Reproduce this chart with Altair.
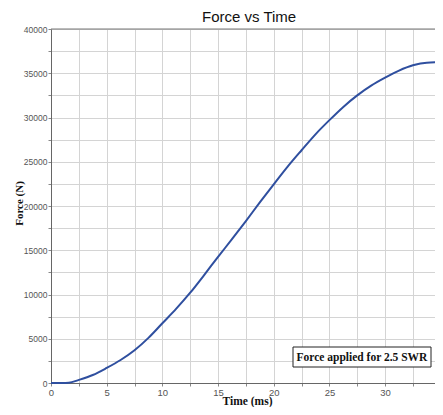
import altair as alt
import pandas as pd

time_ms = [0, 1, 1.6, 2.5, 3.75, 5, 6.25, 7.5, 8.75, 10, 11.25, 12.5, 13.75, 15,
           16.25, 17.5, 18.75, 20, 21.25, 22.5, 23.75, 25, 26.25, 27.5, 28.75,
           30, 31.25, 32.5, 33.75, 35]
force_n = [0, 0, 30, 350, 900, 1700, 2600, 3700, 5100, 6750, 8400, 10200, 12200, 14250,
           16250, 18300, 20400, 22450, 24450, 26300, 28100, 29700, 31200, 32500, 33600,
           34500, 35300, 35900, 36200, 36250]
x_ticks = [i * 2.5 for i in range(15)]
y_ticks = [i * 2500 for i in range(17)]
annotation = ["Force applied for 2.5 SWR"]

df = pd.DataFrame({"t": time_ms, "f": force_n})

x_axis = alt.Axis(values=x_ticks, labelExpr="datum.value % 5 == 0 ? datum.label : ''",
                  title="Time (ms)", titleFont="Liberation Serif", titleFontSize=11.5,
                  titleFontWeight="bold", titleColor="#111", titleBaseline="alphabetic",
                  titleY=21, titleX=196, labelFont="Liberation Sans", labelFontSize=9.5,
                  labelColor="#555", labelPadding=1, tickSize=3, tickColor="#888",
                  domainColor="#666", gridColor="#d4d4d4", labelFlush=False)
y_axis = alt.Axis(values=y_ticks, labelExpr="datum.value % 5000 == 0 ? datum.value : ''",
                  title="Force (N)", titleFont="Liberation Serif", titleFontSize=11,
                  titleFontWeight="bold", titleColor="#111", titleX=-38, titleY=174,
                  titleBaseline="top", titleAngle=-90,
                  labelFont="Liberation Sans", labelFontSize=8.5, labelColor="#555",
                  labelPadding=1, tickSize=3, tickColor="#888", domainColor="#666",
                  gridColor="#d4d4d4")

line = alt.Chart(df).mark_line(color="#2f4f9f", strokeWidth=2, interpolate="monotone").encode(
    x=alt.X("t:Q", scale=alt.Scale(domain=[0, 35.2], nice=False, range=[0, 392]), axis=x_axis),
    y=alt.Y("f:Q", scale=alt.Scale(domain=[0, 40000], nice=False), axis=y_axis),
)

ann = pd.DataFrame({"label": annotation})
top_border = alt.Chart(ann).mark_rule(color="#777", strokeWidth=1).encode(
    x=alt.value(0), x2=alt.value(392), y=alt.value(0)
)
box = alt.Chart(ann).mark_rect(fill="white", stroke="#222", strokeWidth=1).encode(
    x=alt.value(242), x2=alt.value(380), y=alt.value(318), y2=alt.value(338)
)
txt = alt.Chart(ann).mark_text(font="Liberation Serif", fontSize=11.5, fontWeight="bold",
                               color="#111", baseline="middle").encode(
    x=alt.value(311), y=alt.value(328.5), text="label:N"
)

chart = alt.layer(line, top_border, box, txt).properties(
    width=384, height=354,
    title=alt.TitleParams("Force vs Time", font="Liberation Sans", fontSize=15,
                          fontWeight="normal", color="#111", offset=4, anchor="start",
                          dx=189, dy=4),
    autosize=alt.AutoSizeParams(type="none"),
    padding={"left": 43, "top": 21, "right": 0, "bottom": 24},
).configure_view(stroke=None).configure(background="white")

chart.save("out.html", embed_options={"renderer": "svg", "actions": False})
